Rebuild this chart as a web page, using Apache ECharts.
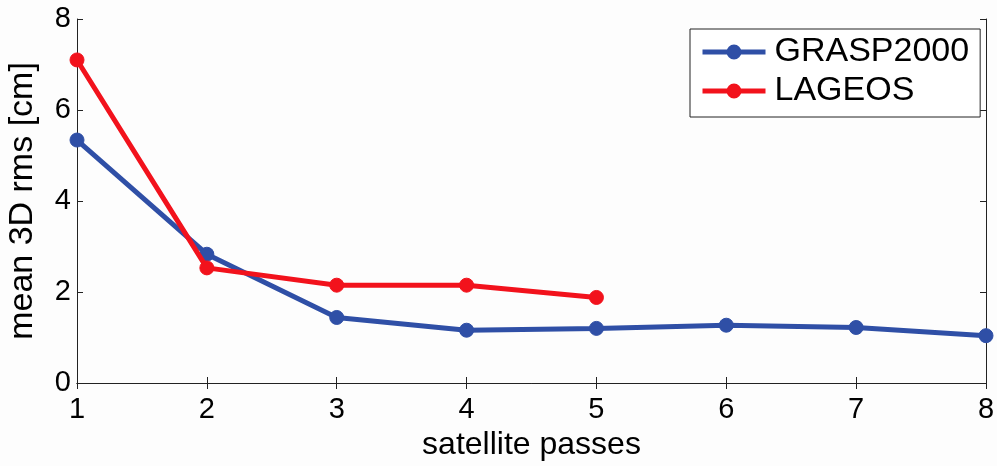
<!DOCTYPE html>
<html>
<head>
<meta charset="utf-8">
<script src="https://cdn.jsdelivr.net/npm/echarts@6/dist/echarts.min.js"></script>
<style>
html,body{margin:0;padding:0;background:#fff;}
#c{width:997px;height:466px;}
</style>
</head>
<body>
<div id="c"></div>
<script>
const passes = [1, 2, 3, 4, 5, 6, 7, 8];
const graspValues = [5.34, 2.83, 1.44, 1.16, 1.20, 1.27, 1.22, 1.04];
const lageosPasses = [1, 2, 3, 4, 5];
const lageosValues = [7.10, 2.53, 2.15, 2.15, 1.88];
const yTicks = [0, 2, 4, 6, 8];
const xLabel = 'satellite passes';
const yLabel = 'mean 3D rms [cm]';
const seriesNames = ['GRASP2000', 'LAGEOS'];

const BLUE = '#2F4FA6';
const RED = '#F2121C';
const FONT = 'Liberation Sans, Arial, sans-serif';

function pairs(xs, ys) { return xs.map((x, i) => [x, ys[i]]); }

const chart = echarts.init(document.getElementById('c'), null, {renderer: 'canvas'});
const tickStyle = {show: true, inside: true, length: 6, lineStyle: {color: '#222', width: 1}};
const axisLine = {show: true, lineStyle: {color: '#222', width: 1}};

chart.setOption({
  backgroundColor: '#fdfdfd',
  animation: false,
  grid: {left: 77, right: 11, top: 19, bottom: 83, containLabel: false, outerBoundsMode: 'none'},
  legend: {
    left: 690, top: 29,
    orient: 'vertical',
    padding: [6, 11, 9, 10],
    itemGap: 5,
    itemWidth: 63,
    itemHeight: 16,
    backgroundColor: '#fff',
    borderColor: '#222',
    borderWidth: 1,
    textStyle: {fontFamily: FONT, fontSize: 34, color: '#000', padding: [0, 0, 0, 4]},
    data: [
      {name: seriesNames[0], itemStyle: {color: BLUE, borderColor: BLUE}, lineStyle: {color: BLUE, width: 5}},
      {name: seriesNames[1], itemStyle: {color: RED, borderColor: RED}, lineStyle: {color: RED, width: 5}}
    ]
  },
  xAxis: [{
    type: 'value', min: 1, max: 8, interval: 1,
    name: xLabel, nameLocation: 'middle', nameGap: 46,
    nameTextStyle: {fontFamily: FONT, fontSize: 32, color: '#000'},
    axisLine: axisLine, axisTick: tickStyle, splitLine: {show: false},
    axisLabel: {fontFamily: FONT, fontSize: 29, color: '#000', margin: 12}
  }, {
    type: 'value', min: 1, max: 8, interval: 1, position: 'top',
    axisLine: axisLine, axisTick: tickStyle, splitLine: {show: false},
    axisLabel: {show: false}
  }],
  yAxis: [{
    type: 'value', min: yTicks[0], max: yTicks[yTicks.length - 1], interval: yTicks[1] - yTicks[0],
    name: yLabel, nameLocation: 'middle', nameGap: 37,
    nameTextStyle: {fontFamily: FONT, fontSize: 34, color: '#000'},
    axisLine: axisLine, axisTick: tickStyle, splitLine: {show: false},
    axisLabel: {fontFamily: FONT, fontSize: 29, color: '#000', margin: 6}
  }, {
    type: 'value', min: yTicks[0], max: yTicks[yTicks.length - 1], interval: yTicks[1] - yTicks[0],
    position: 'right',
    axisLine: axisLine, axisTick: tickStyle, splitLine: {show: false},
    axisLabel: {show: false}
  }],
  series: [{
    name: seriesNames[0], type: 'line',
    data: pairs(passes, graspValues),
    symbol: 'circle', symbolSize: 14,
    lineStyle: {color: BLUE, width: 5},
    itemStyle: {color: BLUE, borderColor: BLUE, borderWidth: 1},
    z: 2
  }, {
    name: seriesNames[1], type: 'line',
    data: pairs(lageosPasses, lageosValues),
    symbol: 'circle', symbolSize: 14,
    lineStyle: {color: RED, width: 5},
    itemStyle: {color: RED, borderColor: RED, borderWidth: 1},
    z: 3
  }]
});
</script>
</body>
</html>
